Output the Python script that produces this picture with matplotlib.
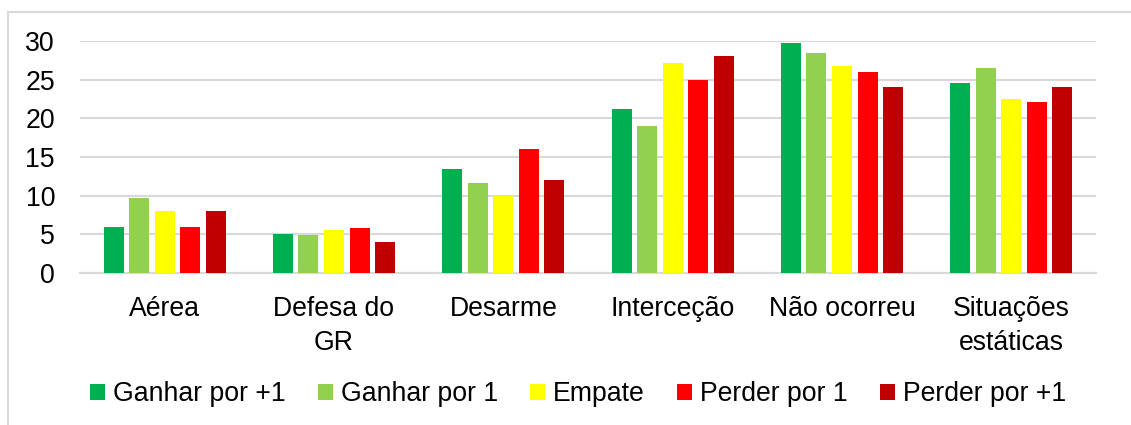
import matplotlib
matplotlib.use("Agg")
import matplotlib.pyplot as plt
from matplotlib.lines import Line2D
import numpy as np

categories = ["Aérea", "Defesa do\nGR", "Desarme", "Interceção", "Não ocorreu", "Situações\nestáticas"]
series_names = ["Ganhar por +1", "Ganhar por 1", "Empate", "Perder por 1", "Perder por +1"]
ganhar_mais1 = [5.9, 5.1, 13.5, 21.2, 29.7, 24.6]
ganhar_1 = [9.7, 4.9, 11.6, 19.0, 28.4, 26.5]
empate = [8.0, 5.6, 9.9, 27.1, 26.8, 22.5]
perder_1 = [5.9, 5.8, 16.0, 25.0, 26.0, 22.1]
perder_mais1 = [8.0, 4.0, 12.0, 28.0, 24.0, 24.0]
colors = ["#00B050", "#92D050", "#FFFF00", "#FF0000", "#C00000"]
yticks = [0, 5, 10, 15, 20, 25, 30]

plt.rcParams["font.family"] = ["Liberation Sans", "DejaVu Sans"]
FS = 19.2

fig = plt.figure(figsize=(11.31, 4.25), dpi=100)
ax = fig.add_axes([80 / 1131, 1 - 273 / 425, (1096 - 80) / 1131, (273 - 41) / 425])

all_series = [ganhar_mais1, ganhar_1, empate, perder_1, perder_mais1]
x = np.arange(len(categories))
step = 0.151
width = 0.118
for i, (vals, name, c) in enumerate(zip(all_series, series_names, colors)):
    ax.bar(x + (i - 2) * step, vals, width=width, color=c, label=name, zorder=3)

ax.set_xlim(-0.5, len(categories) - 0.5)
ax.set_ylim(0, 30)
ax.set_yticks(yticks)
ax.set_yticklabels([str(t) for t in yticks], fontsize=FS)
ax.set_xticks(x)
ax.set_xticklabels(categories, fontsize=FS, linespacing=1.38)
ax.tick_params(axis="both", length=0)
ax.tick_params(axis="y", pad=18)
ax.tick_params(axis="x", pad=16.5)
ax.grid(axis="y", color="#d9d9d9", linewidth=1.5, zorder=0)
for s in ["top", "right", "left"]:
    ax.spines[s].set_visible(False)
ax.spines["bottom"].set_color("#d9d9d9")
ax.spines["bottom"].set_linewidth(1.5)

handles, labels = ax.get_legend_handles_labels()
leg = fig.legend(handles, labels, loc="center", bbox_to_anchor=(578 / 1131, 1 - 394 / 425),
                 ncol=5, frameon=False, fontsize=FS, handlelength=0.55, handleheight=0.55,
                 handletextpad=0.3, columnspacing=1.22, borderaxespad=0)

# chart area border (left and top edges)
fig.add_artist(Line2D([8 / 1131, 8 / 1131], [0, 1 - 12 / 425], transform=fig.transFigure,
                      color="#d9d9d9", linewidth=1.5))
fig.add_artist(Line2D([8 / 1131, 1], [1 - 12 / 425, 1 - 12 / 425], transform=fig.transFigure,
                      color="#d9d9d9", linewidth=1.5))

fig.savefig("out.png", dpi=100)
